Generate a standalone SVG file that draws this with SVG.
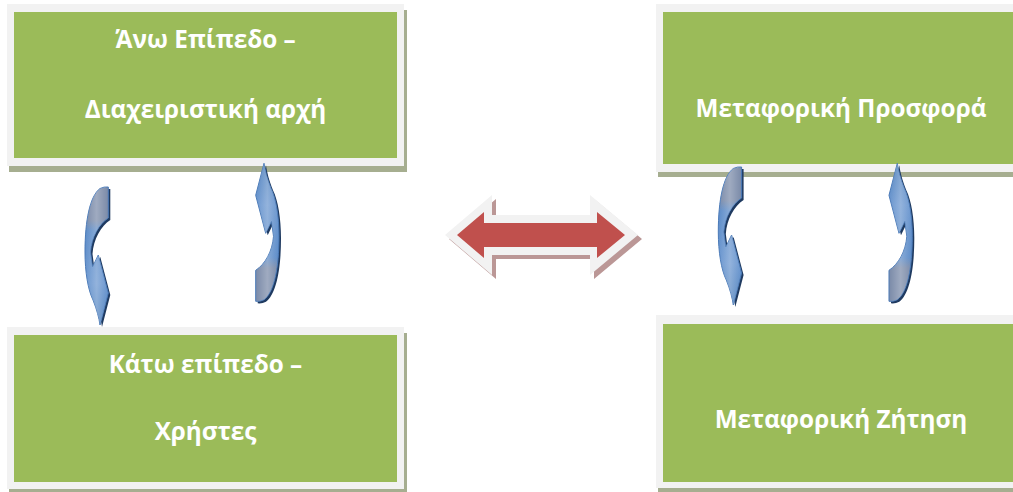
<svg xmlns="http://www.w3.org/2000/svg" width="1013" height="492" viewBox="0 0 1013 492">
  <style>
    .frame { fill: #f2f2f2; }
    .body { fill: #9bbb59; }
    .shade { fill: #a6ae90; }
    .label { font-family: "Open Sans", "Liberation Sans", sans-serif; font-weight: bold; font-size: 24.3px; fill: #ffffff; text-anchor: middle; }
    .curl { fill: url(#curlFill); stroke: #4a7ab8; stroke-width: 1; }
    .curl-hi { fill: url(#curlHi); }
    .curl-shadow { fill: #1f3a60; }
  </style>
  <defs>
    <linearGradient id="curlFill" x1="0" y1="0" x2="0" y2="1">
      <stop offset="0" stop-color="#7a8aa8"/>
      <stop offset="0.24" stop-color="#7a8aa8"/>
      <stop offset="0.32" stop-color="#5b8bc8"/>
      <stop offset="0.7" stop-color="#6a96cf"/>
      <stop offset="1" stop-color="#4f81bd"/>
    </linearGradient>
    <linearGradient id="curlHi" x1="0" y1="0" x2="1" y2="0">
      <stop offset="0" stop-color="#ffffff" stop-opacity="0"/>
      <stop offset="0.5" stop-color="#ffffff" stop-opacity="0.28"/>
      <stop offset="1" stop-color="#ffffff" stop-opacity="0"/>
    </linearGradient>
    <!-- crescent arrow, flat end at top, head pointing down -->
    <path id="curl" d="M108.3,187 L108.3,218 C99,224 91.5,237 90.5,252 L92.5,267 L98.3,255 L108.3,293 L100,325 C99,318 97,310 93,300 C88,290 85,272 85,252 C85,220 90,196 100,188.5 Q104,186.5 108.3,187 Z"/>
  </defs>

  <!-- boxes -->
  <g id="node-top-left">
    <rect class="shade" x="9" y="10" width="398" height="162"/>
    <rect class="frame" x="7" y="4" width="397" height="162"/>
    <rect class="body" x="14" y="12" width="383" height="146"/>
    <text class="label" x="205.5" y="48">Άνω Επίπεδο –</text>
    <text class="label" x="205.5" y="118">Διαχειριστική αρχή</text>
  </g>

  <g id="node-bottom-left">
    <rect class="shade" x="9" y="333" width="398" height="162"/>
    <rect class="frame" x="7" y="327" width="397" height="162"/>
    <rect class="body" x="14" y="335" width="383" height="147"/>
    <text class="label" x="205.5" y="373">Κάτω επίπεδο –</text>
    <text class="label" x="205.5" y="440">Χρήστες</text>
  </g>

  <g id="node-top-right">
    <rect class="shade" x="658" y="10" width="370" height="167"/>
    <rect class="frame" x="656" y="4" width="370" height="168"/>
    <rect class="body" x="663" y="12" width="356" height="152"/>
    <text class="label" x="841" y="117">Μεταφορική Προσφορά</text>
  </g>

  <g id="node-bottom-right">
    <rect class="shade" x="658" y="321" width="370" height="175"/>
    <rect class="frame" x="656" y="315" width="370" height="173"/>
    <rect class="body" x="663" y="324" width="356" height="158"/>
    <text class="label" x="841" y="428">Μεταφορική Ζήτηση</text>
  </g>

  <g id="connectors">
    <!-- left pair of curved arrows -->
    <g id="curl-left-down">
      <use href="#curl" class="curl-shadow" transform="translate(2,2)"/>
      <use href="#curl" class="curl"/>
      <use href="#curl" class="curl-hi"/>
    </g>
    <g id="curl-left-up">
      <use href="#curl" class="curl-shadow" transform="translate(2,2) translate(364,488.3) rotate(180)"/>
      <use href="#curl" class="curl" transform="translate(364,488.3) rotate(180)"/>
      <use href="#curl" class="curl-hi" transform="translate(364,488.3) rotate(180)"/>
    </g>
    <!-- right pair of curved arrows -->
    <g id="curl-right-down">
      <use href="#curl" class="curl-shadow" transform="translate(2,2) translate(633.3,-20)"/>
      <use href="#curl" class="curl" transform="translate(633.3,-20)"/>
      <use href="#curl" class="curl-hi" transform="translate(633.3,-20)"/>
    </g>
    <g id="curl-right-up">
      <use href="#curl" class="curl-shadow" transform="translate(2,2) translate(997.3,488.3) rotate(180)"/>
      <use href="#curl" class="curl" transform="translate(997.3,488.3) rotate(180)"/>
      <use href="#curl" class="curl-hi" transform="translate(997.3,488.3) rotate(180)"/>
    </g>

    <!-- double-headed arrow between the two levels -->
    <g id="double-arrow">
      <polygon fill="#bb9796" points="449,239 496,199 496,219 594,219 594,199 642,239 594,279 594,259 496,259 496,279"/>
      <polygon fill="#f2f2f2" points="445,235 492,195 492,215 590,215 590,195 638,235 590,275 590,255 492,255 492,275"/>
      <polygon fill="#c0504d" points="457,235 484,212 484,223 597,223 597,212 625,235 597,258 597,247 484,247 484,258"/>
    </g>
  </g>
</svg>
